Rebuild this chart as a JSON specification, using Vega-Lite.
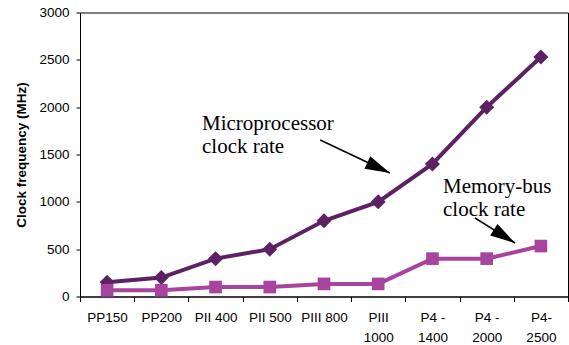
{
  "$schema": "https://vega.github.io/schema/vega-lite/v6.json",
  "width": 488,
  "height": 284,
  "autosize": {"type": "none"},
  "padding": {"left": 80, "top": 12.5, "right": 1, "bottom": 48.5},
  "config": {
    "view": {"stroke": "#000", "strokeWidth": 1},
    "font": "Liberation Sans",
    "axis": {"grid": false, "domainColor": "#000", "tickColor": "#000", "labelColor": "#000", "titleColor": "#000", "labelFont": "Liberation Sans", "titleFont": "Liberation Sans"}
  },
  "datasets": {
    "clock": [
      {"cpu": "PP150", "micro": 150, "mem": 66},
      {"cpu": "PP200", "micro": 200, "mem": 66},
      {"cpu": "PII 400", "micro": 400, "mem": 100},
      {"cpu": "PII 500", "micro": 500, "mem": 100},
      {"cpu": "PIII 800", "micro": 800, "mem": 133},
      {"cpu": "PIII|1000", "micro": 1000, "mem": 133},
      {"cpu": "P4 -|1400", "micro": 1400, "mem": 400},
      {"cpu": "P4 -|2000", "micro": 2000, "mem": 400},
      {"cpu": "P4-|2500", "micro": 2530, "mem": 533}
    ],
    "notes": [
      {"pos": 2.25, "val": 1759, "label": "Microprocessor\nclock rate"},
      {"pos": 6.695, "val": 1093, "label": "Memory-bus\nclock rate"}
    ],
    "arrows": [
      {"pos": 4.43, "val": 1653, "pos2": 5.717, "val2": 1305, "angle": 115},
      {"pos": 7.285, "val": 829, "pos2": 8.023, "val2": 565, "angle": 122}
    ]
  },
  "layer": [
    {
      "data": {"name": "clock"},
      "encoding": {
        "x": {
          "field": "cpu", "type": "nominal", "sort": null,
          "scale": {"type": "band", "paddingInner": 0, "paddingOuter": 0},
          "axis": {
            "title": null, "labelAngle": 0, "tickBand": "extent", "tickSize": 5,
            "labelFontSize": 13.5, "labelPadding": 9, "labelLineHeight": 20,
            "labelBaseline": "top",
            "labelExpr": "split(datum.label, '|')"
          }
        }
      },
      "layer": [
        {
          "mark": {"type": "line", "strokeWidth": 4, "color": "#5C2261"},
          "encoding": {
            "y": {
              "field": "micro", "type": "quantitative",
              "scale": {"domain": [0, 3000], "nice": false},
              "axis": {
                "title": "Clock frequency (MHz)", "titleFontSize": 13.5, "titleFontWeight": "bold",
                "titlePadding": 10, "values": [0, 500, 1000, 1500, 2000, 2500, 3000], "format": "d",
                "tickSize": 4, "labelPadding": 7, "labelFontSize": 13.5
              }
            }
          }
        },
        {
          "mark": {"type": "point", "filled": true, "shape": "diamond", "size": 225, "color": "#5C2261", "opacity": 1},
          "encoding": {"y": {"field": "micro", "type": "quantitative"}}
        },
        {
          "mark": {"type": "line", "strokeWidth": 4, "color": "#A8449F"},
          "encoding": {"y": {"field": "mem", "type": "quantitative"}}
        },
        {
          "mark": {"type": "point", "filled": true, "shape": "square", "size": 160, "color": "#A8449F", "opacity": 1},
          "encoding": {"y": {"field": "mem", "type": "quantitative"}}
        }
      ]
    },
    {
      "layer": [
        {
          "data": {"name": "arrows"},
          "mark": {"type": "rule", "strokeWidth": 1.6, "color": "#000"},
          "encoding": {
            "x": {"field": "pos", "type": "quantitative", "scale": {"domain": [0, 9], "nice": false, "zero": false}, "axis": null},
            "x2": {"field": "pos2"},
            "y": {"field": "val", "type": "quantitative"},
            "y2": {"field": "val2"}
          }
        },
        {
          "data": {"name": "arrows"},
          "mark": {"type": "point", "filled": true, "shape": "M0,0L-0.55,2L0.55,2Z", "size": 625, "color": "#000", "opacity": 1},
          "encoding": {
            "x": {"field": "pos2", "type": "quantitative"},
            "y": {"field": "val2", "type": "quantitative"},
            "angle": {"field": "angle", "type": "quantitative", "scale": null}
          }
        },
        {
          "data": {"name": "notes"},
          "mark": {"type": "text", "font": "Liberation Serif", "fontSize": 21, "align": "left", "baseline": "alphabetic", "lineBreak": "\n", "lineHeight": 23, "color": "#000"},
          "encoding": {
            "x": {"field": "pos", "type": "quantitative"},
            "y": {"field": "val", "type": "quantitative"},
            "text": {"field": "label"}
          }
        }
      ]
    }
  ],
  "resolve": {"scale": {"x": "independent"}, "axis": {"x": "independent"}}
}
